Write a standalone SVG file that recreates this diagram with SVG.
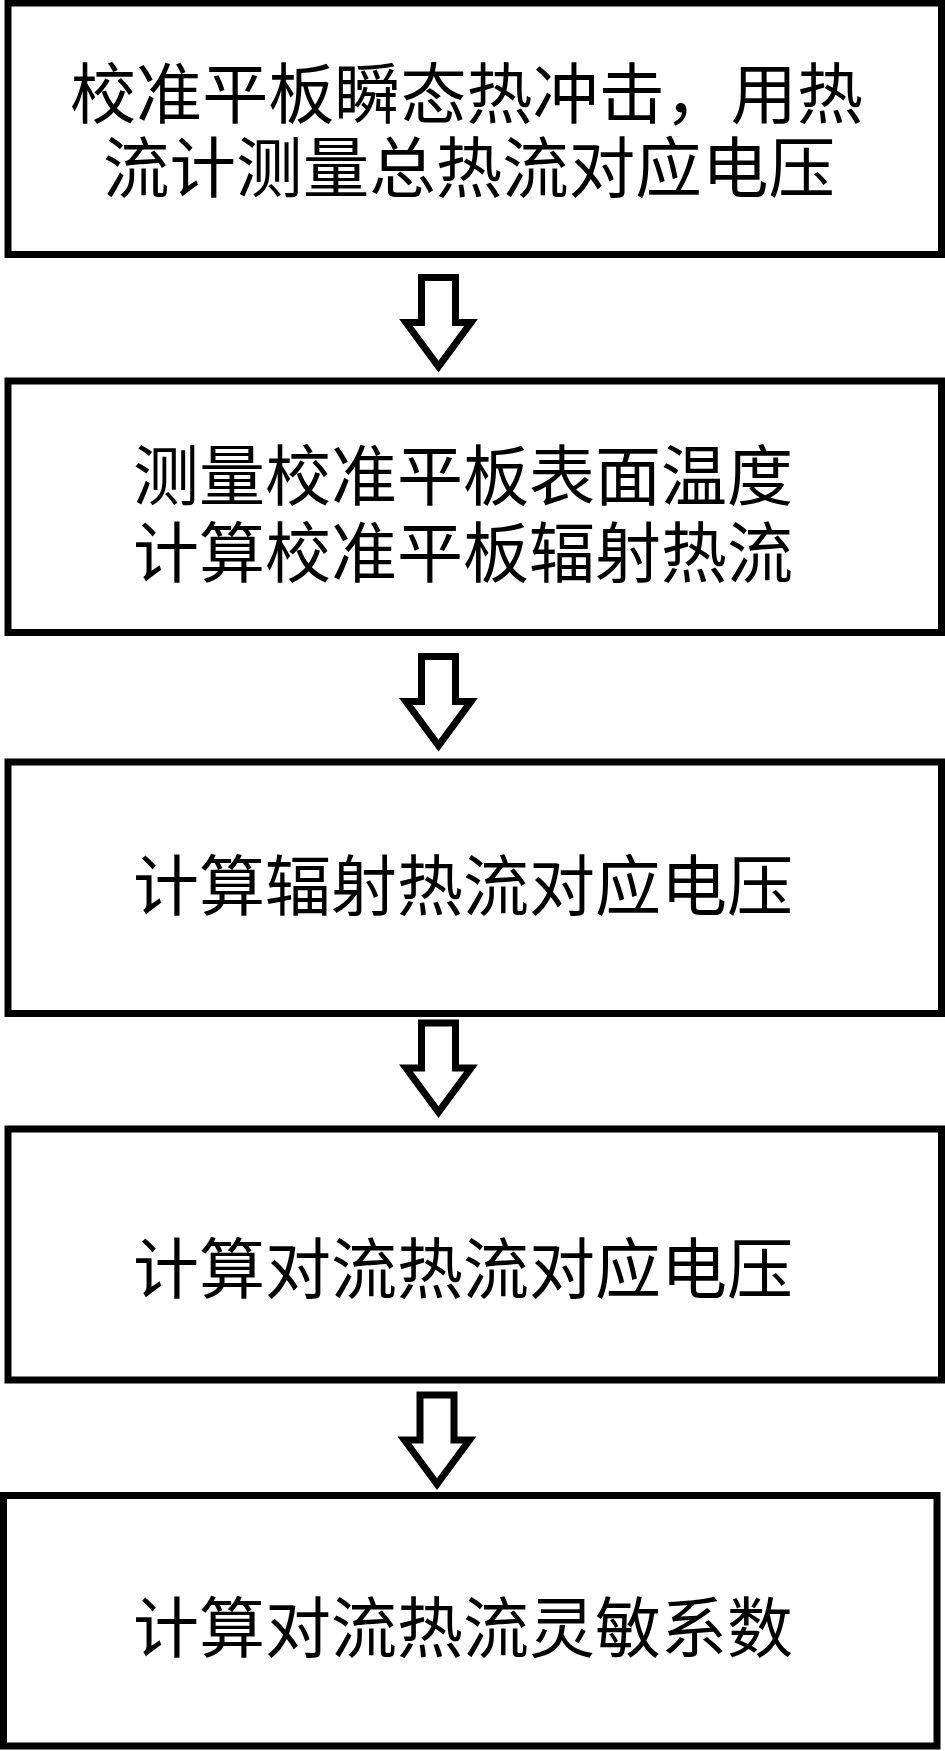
<svg xmlns="http://www.w3.org/2000/svg" width="945" height="1751" viewBox="0 0 945 1751">
<style>
.box{fill:#fff;stroke:#000;stroke-width:7;stroke-linejoin:miter}
.arrow{fill:#fff;stroke:#000;stroke-width:7;stroke-linejoin:miter;stroke-miterlimit:10}
.t{font-family:"Noto Sans CJK SC","Noto Sans CJK TC",sans-serif;font-size:66px;fill:#000}
</style>
<rect width="945" height="1751" fill="#fff"/>
<g id="connectors">
<polygon class="arrow" points="421.5,277.5 455.5,277.5 455.5,322.5 471,322.5 438.5,366.5 406,322.5 421.5,322.5"/>
<polygon class="arrow" points="421.5,656.5 455.5,656.5 455.5,701.5 471,701.5 438.5,745.5 406,701.5 421.5,701.5"/>
<polygon class="arrow" points="421.5,1023 455.5,1023 455.5,1068 471,1068 438.5,1112 406,1068 421.5,1068"/>
<polygon class="arrow" points="420,1395 454,1395 454,1440 469.5,1440 437,1484 404.5,1440 420,1440"/>
</g>
<g id="node1">
<rect class="box" x="8" y="3" width="933.5" height="251.5"/>
<text class="t"><tspan x="70" y="118" textLength="793" lengthAdjust="spacingAndGlyphs">校准平板瞬态热冲击，用热</tspan><tspan x="103" y="192" textLength="732" lengthAdjust="spacingAndGlyphs">流计测量总热流对应电压</tspan></text>
</g>
<g id="node2">
<rect class="box" x="8" y="381" width="933.5" height="251.5"/>
<text class="t"><tspan x="133" y="500">测量校准平板表面温度</tspan><tspan x="133" y="577">计算校准平板辐射热流</tspan></text>
</g>
<g id="node3">
<rect class="box" x="8" y="762" width="933.5" height="251.5"/>
<text class="t" x="133" y="910">计算辐射热流对应电压</text>
</g>
<g id="node4">
<rect class="box" x="8" y="1129" width="933.5" height="251"/>
<text class="t" x="133" y="1293">计算对流热流对应电压</text>
</g>
<g id="node5">
<rect class="box" x="3.5" y="1495.5" width="933.5" height="250.5"/>
<text class="t" x="133" y="1652">计算对流热流灵敏系数</text>
</g>
</svg>
